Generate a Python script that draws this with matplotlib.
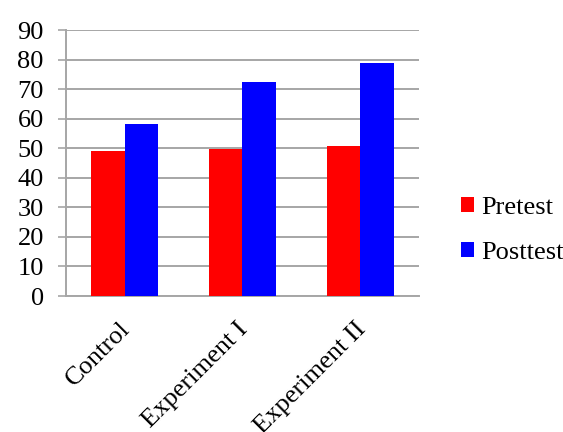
import matplotlib
matplotlib.use("Agg")
import matplotlib.pyplot as plt
import matplotlib.transforms as mtransforms
import numpy as np

categories = ["Control", "Experiment I", "Experiment II"]
pretest = [49.2, 49.9, 50.6]
posttest = [58.3, 72.4, 79.0]
yticks = [0, 10, 20, 30, 40, 50, 60, 70, 80, 90]

plt.rcParams["font.family"] = ["Liberation Serif", "DejaVu Serif"]
GRAY = "#a6a6a6"
FS = 19

fig = plt.figure(figsize=(5.63, 4.32), dpi=100)
ax = fig.add_axes([0.1172, 0.3148, 0.627, 0.6157])

x = np.arange(len(categories))
w = 0.285
ax.bar(x - w / 2, pretest, w, color="#ff0000", label="Pretest", zorder=3)
ax.bar(x + w / 2, posttest, w, color="#0000ff", label="Posttest", zorder=3)

ax.set_xlim(-0.5, len(categories) - 0.5)
ax.set_ylim(0, 90)
ax.set_yticks(yticks)
ax.set_yticklabels([str(v) for v in yticks])
ax.yaxis.grid(True, color=GRAY, lw=1.4, zorder=0)
ax.set_axisbelow(True)

for s in ["top", "right"]:
    ax.spines[s].set_visible(False)
for s in ["left", "bottom"]:
    ax.spines[s].set_color(GRAY)
    ax.spines[s].set_linewidth(1.4)

ax.tick_params(axis="y", length=6, width=1.2, color=GRAY, pad=10, labelsize=FS)
ax.tick_params(axis="x", length=0, pad=16, labelsize=FS)
ax.set_xticks(x)
ax.set_xticklabels(categories, rotation=45, ha="right")
offset = mtransforms.ScaledTranslation(10 / 100, 0, fig.dpi_scale_trans)
for lab in ax.get_xticklabels():
    lab.set_transform(lab.get_transform() + offset)

fig.legend(loc="center left", bbox_to_anchor=(0.819, 0.466), frameon=False,
           fontsize=FS, handlelength=0.5, handleheight=0.5,
           handletextpad=0.25, labelspacing=0.88, borderpad=0,
           borderaxespad=0)

fig.savefig("out.png", dpi=100)
